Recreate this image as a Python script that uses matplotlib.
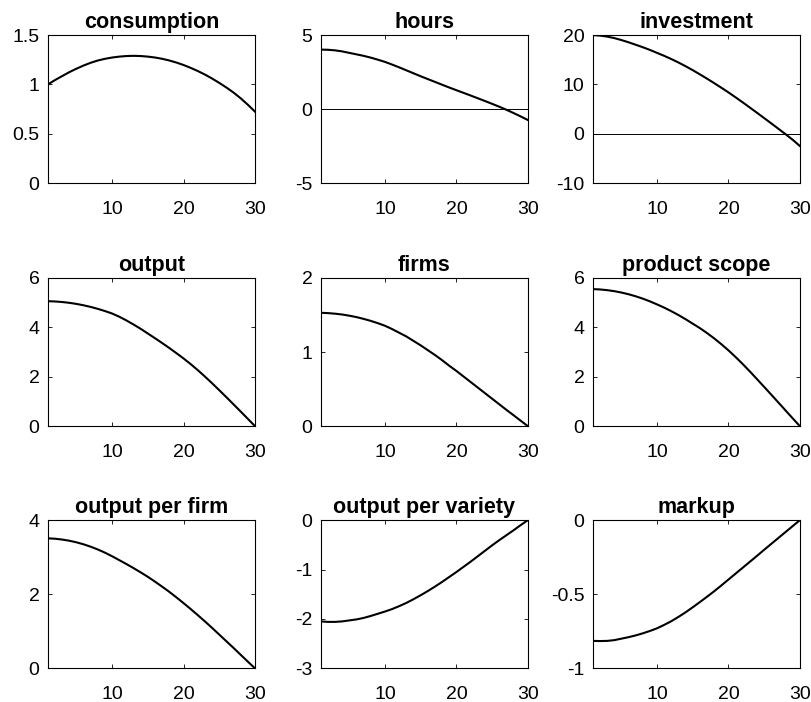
import matplotlib
matplotlib.use("Agg")
import matplotlib.pyplot as plt
from matplotlib.ticker import FuncFormatter

plt.rcParams['font.family'] = ['Liberation Sans', 'DejaVu Sans']
plt.rcParams['axes.unicode_minus'] = False

periods = list(range(1, 31))

titles = ['consumption', 'hours', 'investment',
          'output', 'firms', 'product scope',
          'output per firm', 'output per variety', 'markup']

consumption = [1.00, 1.045, 1.085, 1.125, 1.16, 1.192, 1.22, 1.243, 1.26, 1.273,
               1.282, 1.288, 1.29, 1.288, 1.282, 1.273, 1.26, 1.243, 1.222, 1.197,
               1.168, 1.136, 1.10, 1.06, 1.016, 0.969, 0.918, 0.86, 0.795, 0.725]
hours = [4.02, 4.01, 3.97, 3.90, 3.80, 3.70, 3.60, 3.48, 3.34, 3.19,
         3.01, 2.82, 2.62, 2.42, 2.22, 2.03, 1.84, 1.65, 1.46, 1.28,
         1.10, 0.92, 0.735, 0.55, 0.36, 0.165, -0.04, -0.26, -0.49, -0.73]
investment = [20.0, 19.9, 19.7, 19.4, 19.0, 18.55, 18.05, 17.55, 17.0, 16.4,
              15.8, 15.15, 14.45, 13.7, 12.9, 12.05, 11.18, 10.28, 9.35, 8.4,
              7.4, 6.38, 5.33, 4.27, 3.2, 2.12, 1.03, -0.07, -1.2, -2.45]
output = [5.06, 5.049, 5.027, 4.994, 4.95, 4.894, 4.827, 4.749, 4.66, 4.56,
          4.43, 4.28, 4.115, 3.94, 3.75, 3.56, 3.365, 3.165, 2.955, 2.74,
          2.51, 2.265, 2.005, 1.735, 1.455, 1.17, 0.88, 0.59, 0.295, 0.0]
firms = [1.53, 1.526, 1.518, 1.507, 1.491, 1.472, 1.448, 1.421, 1.39, 1.355,
         1.31, 1.26, 1.21, 1.15, 1.09, 1.025, 0.96, 0.89, 0.815, 0.745,
         0.67, 0.595, 0.52, 0.445, 0.37, 0.295, 0.22, 0.147, 0.073, 0.0]
product_scope = [5.55, 5.536, 5.508, 5.467, 5.412, 5.343, 5.26, 5.164, 5.054, 4.93,
                 4.80, 4.655, 4.50, 4.33, 4.15, 3.97, 3.77, 3.555, 3.32, 3.07,
                 2.80, 2.515, 2.215, 1.905, 1.59, 1.275, 0.955, 0.635, 0.315, 0.0]
output_per_firm = [3.51, 3.499, 3.477, 3.445, 3.402, 3.348, 3.283, 3.208, 3.122, 3.025,
                   2.92, 2.815, 2.705, 2.59, 2.47, 2.34, 2.205, 2.065, 1.915, 1.76,
                   1.60, 1.435, 1.265, 1.09, 0.91, 0.73, 0.55, 0.365, 0.18, 0.0]
output_per_variety = [-2.05, -2.06, -2.06, -2.05, -2.03, -2.01, -1.98, -1.94, -1.895, -1.85,
                      -1.80, -1.74, -1.675, -1.60, -1.52, -1.435, -1.345, -1.25, -1.15, -1.05,
                      -0.945, -0.84, -0.73, -0.62, -0.51, -0.405, -0.305, -0.205, -0.10, 0.0]
markup = [-0.815, -0.816, -0.815, -0.81, -0.80, -0.79, -0.778, -0.764, -0.748, -0.73,
          -0.707, -0.682, -0.653, -0.622, -0.588, -0.553, -0.517, -0.48, -0.441, -0.401,
          -0.361, -0.321, -0.281, -0.241, -0.20, -0.16, -0.12, -0.08, -0.04, 0.0]

series = [consumption, hours, investment,
          output, firms, product_scope,
          output_per_firm, output_per_variety, markup]

yticks = [[0, 0.5, 1, 1.5], [-5, 0, 5], [-10, 0, 10, 20],
          [0, 2, 4, 6], [0, 1, 2], [0, 2, 4, 6],
          [0, 2, 4], [-3, -2, -1, 0], [-1, -0.5, 0]]
xticks = [10, 20, 30]

fig = plt.figure(figsize=(8.12, 7.02), dpi=100)

lefts = [0.059, 0.395, 0.730]
bottoms = [0.739, 0.393, 0.048]
w, h = 0.255, 0.211

for k in range(9):
    r, c = divmod(k, 3)
    ax = fig.add_axes([lefts[c], bottoms[r], w, h])
    ax.plot(periods, series[k], color='black', linewidth=1.5)
    # zero line where the series crosses zero
    if min(series[k]) < 0 < max(series[k]):
        ax.axhline(0, color='black', linewidth=0.7)
    ax.set_xlim(1, 30)
    ax.set_ylim(yticks[k][0], yticks[k][-1])
    ax.set_xticks(xticks)
    ax.set_yticks(yticks[k])
    ax.yaxis.set_major_formatter(FuncFormatter(lambda v, p: '%g' % v))
    ax.tick_params(direction='in', length=3, width=0.6, top=True, right=True,
                   labelsize=14, colors='black')
    ax.tick_params(axis='x', pad=13)
    ax.tick_params(axis='y', pad=6)
    for s in ax.spines.values():
        s.set_linewidth(0.8)
    ax.set_title(titles[k], fontsize=15.5, fontweight='bold', pad=5)

plt.savefig('out.png', dpi=100)
